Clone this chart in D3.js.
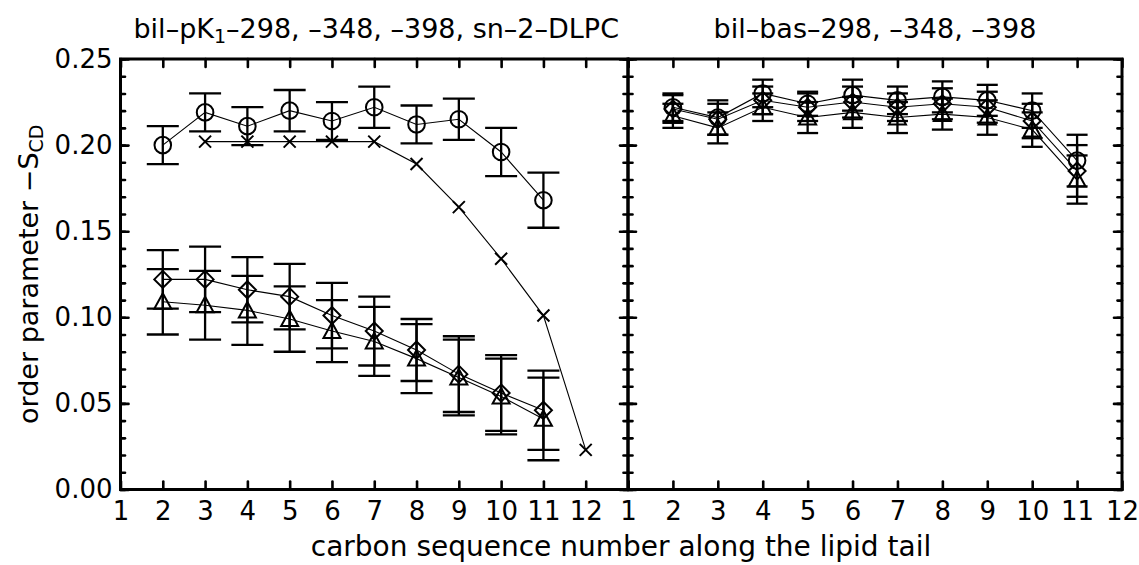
<!DOCTYPE html>
<html><head><meta charset="utf-8">
<script src="https://cdn.jsdelivr.net/npm/d3@7"></script>
<style>
body{margin:0;background:#fff;}
text{font-family:"DejaVu Sans",sans-serif;fill:#000;}
</style></head>
<body><svg id="c" width="1139" height="565"></svg>
<script>
// ---------- data ----------
const carbons = [2,3,4,5,6,7,8,9,10,11];
const crossCarbons = [3,4,5,6,7,8,9,10,11,12];
const xTickLabelsLeft = [1,2,3,4,5,6,7,8,9,10,11,12];
const xTickLabelsRight = [1,2,3,4,5,6,7,8,9,10,11,12];
const yTickLabels = [0.00,0.05,0.10,0.15,0.20,0.25];

// left panel: bil-pK1-298 (circle), -348 (diamond), -398 (triangle), sn-2-DLPC (cross)
const leftCircle      = [0.200,0.219,0.211,0.220,0.214,0.222,0.212,0.215,0.196,0.168];
const leftCircleErr   = [0.011,0.011,0.011,0.012,0.011,0.012,0.011,0.012,0.014,0.016];
const leftDiamond     = [0.122,0.122,0.116,0.112,0.101,0.092,0.081,0.067,0.056,0.046];
const leftDiamondErr  = [0.017,0.019,0.019,0.019,0.019,0.020,0.018,0.022,0.022,0.023];
const leftTriangle    = [0.109,0.107,0.104,0.099,0.092,0.086,0.076,0.065,0.054,0.041];
const leftTriangleErr = [0.019,0.020,0.020,0.019,0.018,0.020,0.020,0.022,0.022,0.024];
const leftCross       = [0.202,0.202,0.202,0.202,0.202,0.189,0.164,0.134,0.101,0.023];

// right panel: bil-bas-298 (circle), -348 (diamond), -398 (triangle)
const rightCircle      = [0.222,0.216,0.230,0.224,0.229,0.226,0.228,0.226,0.220,0.191];
const rightCircleErr   = [0.008,0.010,0.008,0.007,0.009,0.008,0.009,0.009,0.010,0.015];
const rightDiamond     = [0.221,0.215,0.226,0.222,0.225,0.222,0.224,0.222,0.214,0.185];
const rightDiamondErr  = [0.008,0.009,0.008,0.008,0.009,0.008,0.009,0.009,0.010,0.015];
const rightTriangle    = [0.217,0.210,0.222,0.216,0.219,0.216,0.218,0.216,0.209,0.180];
const rightTriangleErr = [0.007,0.009,0.008,0.009,0.009,0.009,0.009,0.010,0.010,0.014];

// ---------- layout ----------
const svg = d3.select("#c");
const yTop = 59, yBot = 489.5;
const y = d3.scaleLinear().domain([0,0.25]).range([yBot, yTop]);
const xL = d3.scaleLinear().domain([1,13]).range([120.5, 628]);
const xR = d3.scaleLinear().domain([1,12]).range([628, 1122]);
const yMajor = yTickLabels;
const yMinor = d3.range(0, 26).map(i=>i/100);

function markerPath(type, r){
  if(type==="diamond") return `M0,${-r}L${r},0L0,${r}L${-r},0Z`;
  if(type==="triangle") return `M0,${-r}L${r},${r*0.82}L${-r},${r*0.82}Z`;
  if(type==="cross") return `M${-r},${-r}L${r},${r}M${-r},${r}L${r},${-r}`;
  return "";
}

function drawSeries(g, x, xs, vals, errs, type, cap){
  const pts = xs.map((c,i)=>({c, v:vals[i], e: errs?errs[i]:0}));
  g.append("path").datum(pts)
    .attr("d", d3.line().x(d=>x(d.c)).y(d=>y(d.v)))
    .attr("fill","none").attr("stroke","#000").attr("stroke-width",1.1);
  if(errs){
    const eb = g.append("g").attr("stroke","#000").attr("stroke-width",2.3);
    pts.forEach(d=>{
      eb.append("line").attr("x1",x(d.c)).attr("x2",x(d.c)).attr("y1",y(d.v-d.e)).attr("y2",y(d.v+d.e));
      eb.append("line").attr("x1",x(d.c)-cap).attr("x2",x(d.c)+cap).attr("y1",y(d.v+d.e)).attr("y2",y(d.v+d.e));
      eb.append("line").attr("x1",x(d.c)-cap).attr("x2",x(d.c)+cap).attr("y1",y(d.v-d.e)).attr("y2",y(d.v-d.e));
    });
  }
  const mg = g.append("g").attr("fill","none").attr("stroke","#000").attr("stroke-width",2);
  pts.forEach(d=>{
    if(type==="circle") mg.append("circle").attr("cx",x(d.c)).attr("cy",y(d.v)).attr("r",8.3);
    else mg.append("path").attr("transform",`translate(${x(d.c)},${y(d.v)})`)
      .attr("d", markerPath(type, type==="cross"?6:8.5));
  });
}

function frame(x, showYLabels, xLabelVals, xTickVals){
  const g = svg.append("g");
  const styleAxis = sel => {
    sel.select(".domain").remove();
    sel.selectAll(".tick line").attr("stroke","#000").attr("stroke-width",2.6).attr("stroke-linecap","round");
    sel.selectAll(".tick text").style("font-family","'DejaVu Sans',sans-serif").style("font-size","26px").attr("fill","#000");
  };
  g.append("g").attr("transform",`translate(0,${yBot})`)
    .call(d3.axisBottom(x).tickValues(xTickVals).tickSize(-8).tickSizeOuter(0).tickPadding(12.5)
      .tickFormat(d=> xLabelVals.includes(d)? d3.format("d")(d) : ""))
    .call(styleAxis);
  g.append("g").attr("transform",`translate(0,${yTop})`)
    .call(d3.axisTop(x).tickValues(xTickVals).tickSize(-8).tickSizeOuter(0).tickFormat(""))
    .call(styleAxis);
  const [x0,x1] = x.range();
  g.append("g").attr("transform",`translate(${x0},0)`)
    .call(d3.axisLeft(y).tickValues(yMinor).tickSize(-4.5).tickSizeOuter(0).tickFormat(""))
    .call(styleAxis);
  g.append("g").attr("transform",`translate(${x0},0)`)
    .call(d3.axisLeft(y).tickValues(yMajor).tickSize(-8).tickSizeOuter(0).tickPadding(8)
      .tickFormat(showYLabels? d3.format(".2f") : ""))
    .call(styleAxis);
  g.append("g").attr("transform",`translate(${x1},0)`)
    .call(d3.axisRight(y).tickValues(yMinor).tickSize(-4.5).tickSizeOuter(0).tickFormat(""))
    .call(styleAxis);
  g.append("g").attr("transform",`translate(${x1},0)`)
    .call(d3.axisRight(y).tickValues(yMajor).tickSize(-8).tickSizeOuter(0).tickFormat(""))
    .call(styleAxis);
  g.append("rect").attr("x",x0).attr("y",yTop).attr("width",x1-x0).attr("height",yBot-yTop)
    .attr("fill","none").attr("stroke","#000").attr("stroke-width",3);
  return g;
}

frame(xL, true, xTickLabelsLeft, d3.range(1,14));
frame(xR, false, xTickLabelsRight, d3.range(1,13));

const pL = svg.append("g");
drawSeries(pL, xL, crossCarbons, leftCross, null, "cross", 0);
drawSeries(pL, xL, carbons, leftTriangle, leftTriangleErr, "triangle", 16);
drawSeries(pL, xL, carbons, leftDiamond, leftDiamondErr, "diamond", 16);
drawSeries(pL, xL, carbons, leftCircle, leftCircleErr, "circle", 16);

const pR = svg.append("g");
drawSeries(pR, xR, carbons, rightTriangle, rightTriangleErr, "triangle", 10.5);
drawSeries(pR, xR, carbons, rightDiamond, rightDiamondErr, "diamond", 10.5);
drawSeries(pR, xR, carbons, rightCircle, rightCircleErr, "circle", 10.5);

// titles
const t1 = svg.append("text").attr("x", (xL.range()[0]+xL.range()[1])/2 + 2).attr("y",38)
  .attr("text-anchor","middle").style("font-size","27px");
t1.append("tspan").text("bil–pK");
t1.append("tspan").text("1").style("font-size","19px").attr("dy",5);
t1.append("tspan").text("–298, –348, –398, sn–2–DLPC").attr("dy",-5);

svg.append("text").attr("x",(xR.range()[0]+xR.range()[1])/2).attr("y",38)
  .attr("text-anchor","middle").style("font-size","27px")
  .text("bil–bas–298, –348, –398");

svg.append("text").attr("x",621).attr("y",556).attr("text-anchor","middle")
  .style("font-size","28px").text("carbon sequence number along the lipid tail");

const yl = svg.append("text").attr("transform",`translate(38,${(yTop+yBot)/2}) rotate(-90)`)
  .attr("text-anchor","middle").style("font-size","27px");
yl.append("tspan").text("order parameter −S");
yl.append("tspan").text("CD").style("font-size","19px").attr("dy",5);
</script></body></html>
